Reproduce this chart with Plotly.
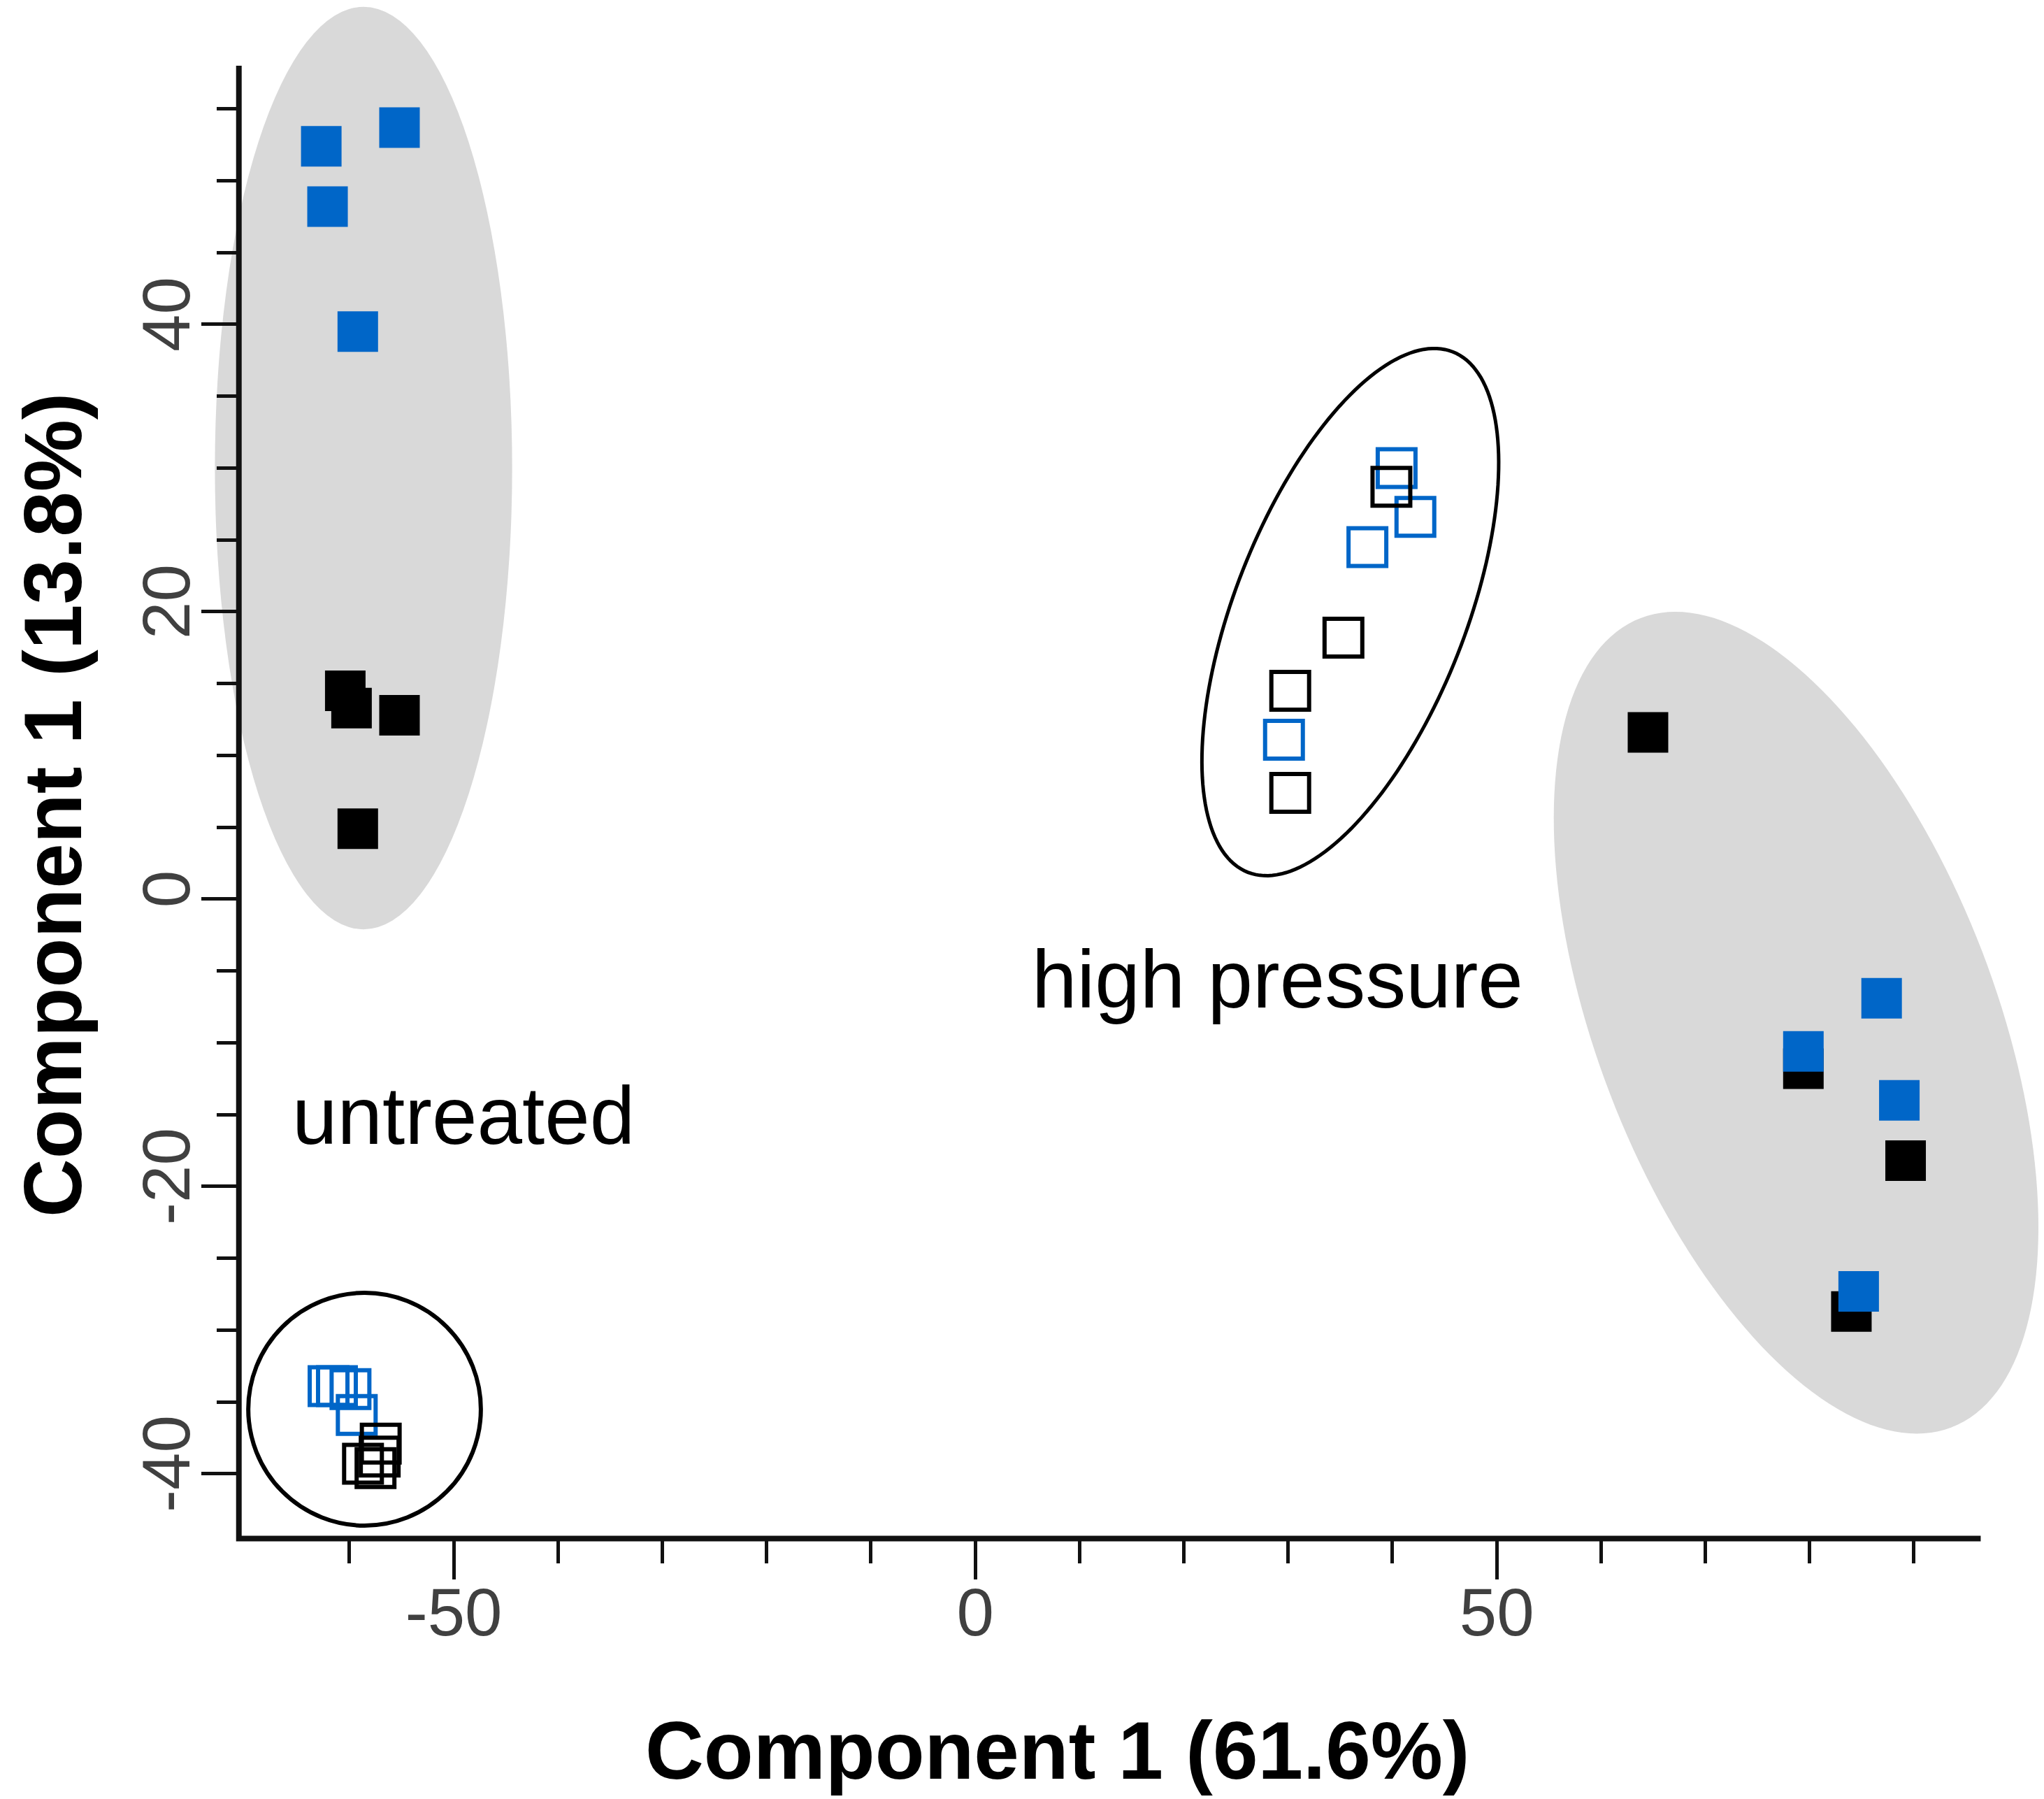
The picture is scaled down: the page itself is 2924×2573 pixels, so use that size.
import numpy as np
import plotly.graph_objects as go

# ---------------- data (scores) ----------------
# untreated, filled squares
unt_fill_blue_x = [-62.7, -55.2, -62.1, -59.2]
unt_fill_blue_y = [52.4, 53.7, 48.2, 39.5]
unt_fill_black_x = [-60.4, -59.8, -55.2, -59.2]
unt_fill_black_y = [14.5, 13.3, 12.8, 4.9]
# untreated, open squares
unt_open_blue_x = [-62.0, -61.2, -59.9, -59.3]
unt_open_blue_y = [-33.9, -33.9, -34.1, -35.9]
unt_open_black_x = [-57.0, -58.7, -57.5, -57.1]
unt_open_black_y = [-37.9, -39.3, -39.6, -38.8]
# high pressure, open squares
hp_open_blue_x = [40.4, 42.2, 37.6, 29.6]
hp_open_blue_y = [30.0, 26.6, 24.5, 11.1]
hp_open_black_x = [39.9, 35.3, 30.2, 30.2]
hp_open_black_y = [28.7, 18.2, 14.5, 7.4]
# high pressure, filled squares
hp_fill_blue_x = [86.9, 79.4, 88.6, 84.7]
hp_fill_blue_y = [-6.9, -10.6, -14.0, -27.3]
hp_fill_black_x = [64.5, 79.4, 89.2, 84.0]
hp_fill_black_y = [11.6, -11.8, -18.2, -28.7]

x_major = [-50, 0, 50]
x_minor = [-60, -40, -30, -20, -10, 10, 20, 30, 40, 60, 70, 80, 90]
y_major = [-40, -20, 0, 20, 40]
y_minor = [-35, -30, -25, -15, -10, -5, 5, 10, 15, 25, 30, 35, 45, 50, 55]

x_title = "Component 1 (61.6%)"
y_title = "Component 1 (13.8%)"

# ---------------- layout geometry ----------------
BODY = 8                      # default page margin of the html body
W, H = 2924 - BODY, 2573 - BODY
SX, SY = 14.92, 20.55         # px per data unit
PX0, PY0 = 1395.0, 1286.0     # screen px of data x=0 / y=0
XR = [-74, 102]
YR = [-45.5, (PY0 - BODY) / SY]
ML = PX0 + SX * XR[0] - BODY
MR = W - ML - SX * (XR[1] - XR[0])
MT = 0
MB = H - MT - SY * (YR[1] - YR[0])
PW, PH = W - ML - MR, H - MT - MB

X_AX = -70.6   # where the y axis sits
Y_AX = -44.5   # where the x axis sits
X_END = 96.4
Y_END = 58.0

BLUE = "#0066C8"
BLACK = "#000000"
FONT = "Liberation Sans, Arial, sans-serif"


def paper_x(screen_px):
    return (screen_px - BODY - ML) / PW


def paper_y(screen_py):
    return (H - MB - (screen_py - BODY)) / PH


def rotated_ellipse_path(cx, cy, a_px, b_px, theta_deg, n=180):
    th = np.deg2rad(theta_deg)
    t = np.linspace(0, 2 * np.pi, n, endpoint=False)
    dx = a_px * np.cos(t) * np.cos(th) - b_px * np.sin(t) * np.sin(th)
    dy = a_px * np.cos(t) * np.sin(th) + b_px * np.sin(t) * np.cos(th)
    xs = cx + dx / SX
    ys = cy - dy / SY
    return "M " + " L ".join(f"{x:.3f},{y:.3f}" for x, y in zip(xs, ys)) + " Z"


fig = go.Figure()

open_blue_x = unt_open_blue_x + hp_open_blue_x
open_blue_y = unt_open_blue_y + hp_open_blue_y
open_black_x = unt_open_black_x + hp_open_black_x
open_black_y = unt_open_black_y + hp_open_black_y
fill_black_x = unt_fill_black_x + hp_fill_black_x
fill_black_y = unt_fill_black_y + hp_fill_black_y
fill_blue_x = unt_fill_blue_x + hp_fill_blue_x
fill_blue_y = unt_fill_blue_y + hp_fill_blue_y

fig.add_trace(go.Scatter(x=open_blue_x, y=open_blue_y, mode="markers",
                         marker=dict(symbol="square-open", size=54, color=BLUE,
                                     line=dict(width=6, color=BLUE)),
                         hoverinfo="skip", showlegend=False))
fig.add_trace(go.Scatter(x=open_black_x, y=open_black_y, mode="markers",
                         marker=dict(symbol="square-open", size=54, color=BLACK,
                                     line=dict(width=6, color=BLACK)),
                         hoverinfo="skip", showlegend=False))
fig.add_trace(go.Scatter(x=fill_black_x, y=fill_black_y, mode="markers",
                         marker=dict(symbol="square", size=58, color=BLACK,
                                     line=dict(width=0)),
                         hoverinfo="skip", showlegend=False))
fig.add_trace(go.Scatter(x=fill_blue_x, y=fill_blue_y, mode="markers",
                         marker=dict(symbol="square", size=58, color=BLUE,
                                     line=dict(width=0)),
                         hoverinfo="skip", showlegend=False))

shapes = [
    # grey group ellipses
    dict(type="circle", xref="x", yref="y", x0=-72.9, x1=-44.4, y0=-2.1, y1=62.1,
         fillcolor="#D9D9D9", line=dict(width=0), layer="below"),
    dict(type="path", xref="x", yref="y",
         path=rotated_ellipse_path(78.7, -8.6, 620, 285, 69),
         fillcolor="#D9D9D9", line=dict(width=0), layer="below"),
    # outlined group ellipses
    dict(type="path", xref="x", yref="y",
         path=rotated_ellipse_path(35.96, 19.98, 400, 165, -68.5),
         fillcolor="rgba(0,0,0,0)", line=dict(width=5, color=BLACK), layer="below"),
    dict(type="circle", xref="x", yref="y", x0=-69.7, x1=-47.4, y0=-43.6, y1=-27.4,
         fillcolor="rgba(0,0,0,0)", line=dict(width=6, color=BLACK), layer="below"),
    # axis lines
    dict(type="path", xref="x", yref="y",
         path=f"M {X_AX},{Y_END} L {X_AX},{Y_AX} L {X_END},{Y_AX}",
         line=dict(width=8, color="#111111"), layer="below"),
]

annotations = [
    dict(text="high pressure", x=29.0, y=-5.6, xref="x", yref="y", showarrow=False,
         xanchor="center", yanchor="middle", font=dict(family=FONT, size=116, color=BLACK)),
    dict(text="untreated", x=-49.1, y=-15.1, xref="x", yref="y", showarrow=False,
         xanchor="center", yanchor="middle", font=dict(family=FONT, size=116, color=BLACK)),
    dict(text=f"<b>{x_title}</b>", x=paper_x(1512), y=paper_y(2504),
         xref="paper", yref="paper", showarrow=False, xanchor="center", yanchor="middle",
         font=dict(family=FONT, size=116, color=BLACK)),
    dict(text=f"<b>{y_title}</b>", x=paper_x(76), y=paper_y(1152),
         xref="paper", yref="paper", showarrow=False, xanchor="center", yanchor="middle",
         textangle=-90, font=dict(family=FONT, size=116, color=BLACK)),
]

tickfont = dict(family=FONT, size=96, color="#404040")

fig.update_layout(
    width=W, height=H,
    margin=dict(l=ML, r=MR, t=MT, b=MB, pad=0, autoexpand=False),
    paper_bgcolor="white", plot_bgcolor="white",
    shapes=shapes, annotations=annotations,
    showlegend=False,
    xaxis=dict(range=XR, anchor="free", position=(Y_AX - YR[0]) / (YR[1] - YR[0]),
               showline=False, showgrid=False, zeroline=False,
               tickmode="array", tickvals=x_major, ticktext=[str(v) for v in x_major],
               ticks="outside", ticklen=58, tickwidth=5, tickcolor="#111111",
               ticklabelstandoff=-36,
               minor=dict(tickmode="array", tickvals=x_minor, ticks="outside",
                          ticklen=35, tickwidth=5, tickcolor="#111111", showgrid=False),
               tickfont=tickfont, fixedrange=True),
    yaxis=dict(range=YR, anchor="free", position=(X_AX - XR[0]) / (XR[1] - XR[0]),
               showline=False, showgrid=False, zeroline=False,
               tickmode="array", tickvals=y_major, ticktext=[str(v) for v in y_major],
               ticks="outside", ticklen=54, tickwidth=5, tickcolor="#111111",
               ticklabelstandoff=-22,
               minor=dict(tickmode="array", tickvals=y_minor, ticks="outside",
                          ticklen=32, tickwidth=5, tickcolor="#111111", showgrid=False),
               tickangle=-90, tickfont=tickfont, fixedrange=True),
)

fig.write_html("out.html")
